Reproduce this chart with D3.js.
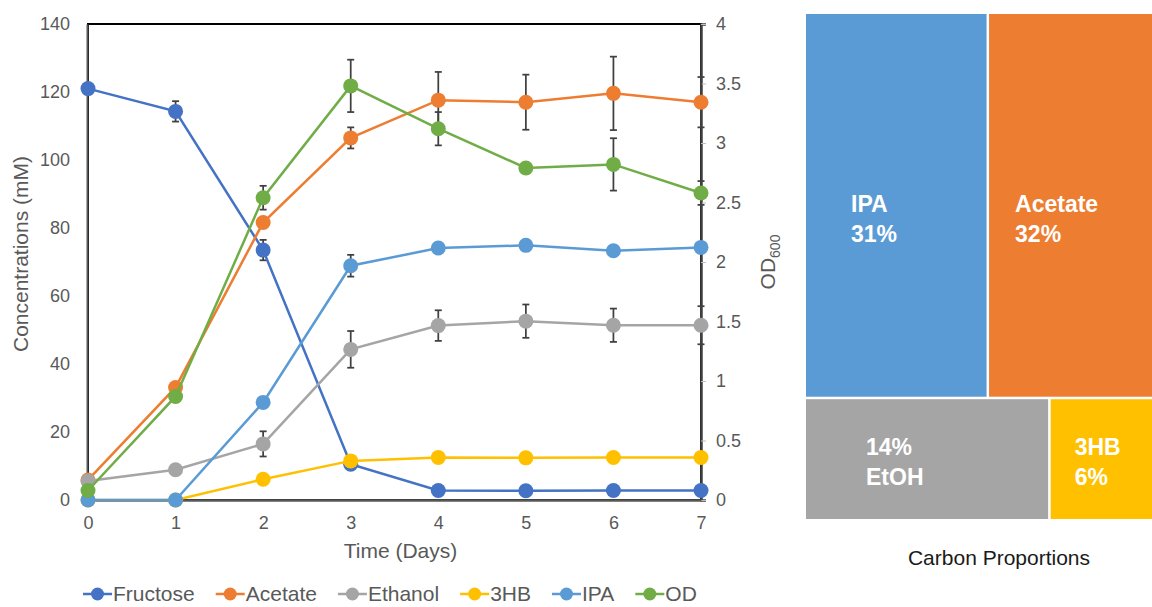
<!DOCTYPE html>
<html>
<head>
<meta charset="utf-8">
<script src="https://cdn.jsdelivr.net/npm/d3@7"></script>
<style>
  html, body { margin: 0; padding: 0; background: #fff; }
  svg { display: block; font-family: "Liberation Sans", Arial, sans-serif; }
</style>
</head>
<body>
<svg id="chart" width="1152" height="607"></svg>
<script>
// ---------- data ----------
const days = [0, 1, 2, 3, 4, 5, 6, 7];
const seriesNames = ["Fructose", "Acetate", "Ethanol", "3HB", "IPA", "OD"];
const seriesColors = ["#4472C4", "#ED7D31", "#A5A5A5", "#FFC000", "#5B9BD5", "#70AD47"];
const fructose    = [121.0, 114.3, 73.5, 10.5, 2.8, 2.7, 2.8, 2.8];
const fructoseErr = [0, 3.0, 3.0, 0, 0, 0, 0, 0];
const acetate     = [5.9, 33.1, 81.6, 106.5, 117.6, 117.0, 119.6, 117.0];
const acetateErr  = [0, 0, 0, 3.1, 8.3, 8.1, 10.8, 7.4];
const ethanol     = [5.6, 8.9, 16.5, 44.3, 51.3, 52.6, 51.4, 51.4];
const ethanolErr  = [0, 0, 3.7, 5.4, 4.5, 4.9, 4.9, 5.6];
const hb3         = [0, 0, 6.1, 11.5, 12.5, 12.4, 12.5, 12.5];
const hb3Err      = [0, 0, 0, 0, 0, 0, 0, 0];
const ipa         = [0, 0, 28.7, 68.9, 74.1, 74.9, 73.3, 74.3];
const ipaErr      = [0, 0, 0, 3.2, 0, 0, 0, 0];
const od          = [0.08, 0.87, 2.54, 3.48, 3.12, 2.79, 2.82, 2.58];
const odErr       = [0, 0, 0.1, 0.22, 0.14, 0, 0.22, 0.1];

const leftTicks  = [0, 20, 40, 60, 80, 100, 120, 140];
const rightTicks = [0, 0.5, 1, 1.5, 2, 2.5, 3, 3.5, 4];

// treemap (carbon proportions)
const cellNames  = ["IPA", "Acetate", "EtOH", "3HB"];
const cellPct    = ["31%", "32%", "14%", "6%"];
const cellArea   = [33, 30, 14, 6];          // relative areas as drawn
const cellRow    = [0, 0, 1, 1];
const cellColors = ["#5B9BD5", "#ED7D31", "#A5A5A5", "#FFC000"];

// ---------- setup ----------
const svg = d3.select("#chart");
const x  = d3.scaleLinear().domain([0, 7]).range([88, 701]);
const yL = d3.scaleLinear().domain([0, 140]).range([500, 24]);
const yR = d3.scaleLinear().domain([0, 4]).range([500, 24]);

const tickColor = "#595959";

// plot border
svg.append("rect")
  .attr("x", x(0)).attr("y", yL(140))
  .attr("width", x(7) - x(0)).attr("height", yL(0) - yL(140))
  .attr("fill", "none").attr("stroke", "#000").attr("stroke-width", 2);

// left axis
const gL = svg.append("g").attr("transform", `translate(${x(0) - 1},0)`)
  .call(d3.axisLeft(yL).tickValues(leftTicks).tickSize(0).tickPadding(17).tickFormat(d3.format("d")));
gL.select(".domain").attr("stroke", "#595959").attr("stroke-width", 2);
gL.selectAll("text").attr("fill", tickColor).style("font-size", "18px").style("font-family", "Liberation Sans, Arial, sans-serif");

// right axis
const gR = svg.append("g").attr("transform", `translate(${x(7)},0)`)
  .call(d3.axisRight(yR).tickValues(rightTicks).tickSize(5).tickPadding(10).tickFormat(d => d));
gR.select(".domain").attr("stroke", "#404040").attr("stroke-width", 2.5);
gR.selectAll(".tick line").attr("stroke", "#BFBFBF").attr("stroke-width", 1);
gR.selectAll("text").attr("fill", tickColor).style("font-size", "18px").style("font-family", "Liberation Sans, Arial, sans-serif");

// bottom axis
const gB = svg.append("g").attr("transform", `translate(0,${yL(0)})`)
  .call(d3.axisBottom(x).tickValues(days).tickSize(0).tickPadding(16).tickFormat(d3.format("d")));
gB.select(".domain").attr("stroke", "#595959").attr("stroke-width", 2.5);
gB.selectAll("text").attr("fill", tickColor).style("font-size", "18px").style("font-family", "Liberation Sans, Arial, sans-serif");

// axis titles
svg.append("text")
  .attr("transform", `translate(28,${(yL(0) + yL(140)) / 2 - 8}) rotate(-90)`)
  .attr("text-anchor", "middle")
  .attr("fill", tickColor).style("font-size", "21px")
  .text("Concentrations (mM)");

const odTitle = svg.append("text")
  .attr("transform", `translate(775,${(yR(0) + yR(4)) / 2}) rotate(-90)`)
  .attr("text-anchor", "middle")
  .attr("fill", tickColor).style("font-size", "21px");
odTitle.append("tspan").text("OD");
odTitle.append("tspan").attr("dy", 5).style("font-size", "14px").text("600");

svg.append("text")
  .attr("x", (x(0) + x(7)) / 2 + 6).attr("y", 558)
  .attr("text-anchor", "middle")
  .attr("fill", tickColor).style("font-size", "21px")
  .text("Time (Days)");

// ---------- series ----------
const seriesValues = [fructose, acetate, ethanol, hb3, ipa, od];
const seriesErrors = [fructoseErr, acetateErr, ethanolErr, hb3Err, ipaErr, odErr];
const seriesScale  = [yL, yL, yL, yL, yL, yR];

seriesNames.forEach((name, i) => {
  const vals = seriesValues[i], errs = seriesErrors[i], ys = seriesScale[i];
  const pts = days.map((d, k) => ({ d, v: vals[k], e: errs[k] }));
  const g = svg.append("g");

  // error bars
  const eb = g.selectAll(".err").data(pts.filter(p => p.e > 0)).join("g");
  eb.append("line")
    .attr("x1", p => x(p.d)).attr("x2", p => x(p.d))
    .attr("y1", p => ys(p.v - p.e)).attr("y2", p => ys(p.v + p.e))
    .attr("stroke", "#404040").attr("stroke-width", 1.75);
  [-1, 1].forEach(s => {
    eb.append("line")
      .attr("x1", p => x(p.d) - 3.5).attr("x2", p => x(p.d) + 3.5)
      .attr("y1", p => ys(p.v + s * p.e)).attr("y2", p => ys(p.v + s * p.e))
      .attr("stroke", "#404040").attr("stroke-width", 1.75);
  });

  g.append("path")
    .datum(pts)
    .attr("d", d3.line().x(p => x(p.d)).y(p => ys(p.v)))
    .attr("fill", "none").attr("stroke", seriesColors[i]).attr("stroke-width", 2.5);

  g.selectAll("circle").data(pts).join("circle")
    .attr("cx", p => x(p.d)).attr("cy", p => ys(p.v)).attr("r", 7.5)
    .attr("fill", seriesColors[i]);
});

// ---------- legend ----------
const legend = svg.append("g").attr("transform", "translate(83,601)");
let lx = 0;
seriesNames.forEach((name, i) => {
  const item = legend.append("g").attr("transform", `translate(${lx},0)`);
  item.append("line").attr("x1", 0).attr("x2", 29).attr("y1", -7).attr("y2", -7)
    .attr("stroke", seriesColors[i]).attr("stroke-width", 2.5);
  item.append("circle").attr("cx", 14.5).attr("cy", -7).attr("r", 6.5).attr("fill", seriesColors[i]);
  const t = item.append("text").attr("x", 30).attr("y", 0)
    .attr("fill", tickColor).style("font-size", "21px").text(name);
  lx += 30 + t.node().getComputedTextLength() + 21;
});

// ---------- treemap ----------
const rootData = {
  children: [0, 1].map(r => ({
    children: cellNames.map((n, k) => ({ k, name: n, value: cellArea[k] })).filter(c => cellRow[c.k] === r)
  }))
};
const root = d3.hierarchy(rootData).sum(d => d.value || 0);
d3.treemap()
  .tile((node, x0, y0, x1, y1) => node.depth === 0
    ? d3.treemapSlice(node, x0, y0, x1, y1)
    : d3.treemapDice(node, x0, y0, x1, y1))
  .size([1153 - 806, 519 - 14])
  .paddingInner(2.5)(root);

const tm = svg.append("g").attr("transform", "translate(806,14)");
const leaves = tm.selectAll("g").data(root.leaves()).join("g");
leaves.append("rect")
  .attr("x", d => d.x0).attr("y", d => d.y0)
  .attr("width", d => d.x1 - d.x0).attr("height", d => d.y1 - d.y0)
  .attr("fill", d => cellColors[d.data.k]);

const labelOffsets = [45, 26, 60, 24];
leaves.append("text")
  .attr("fill", "#fff").style("font-weight", "bold").style("font-size", "23px")
  .each(function (d) {
    const k = d.data.k;
    const t = d3.select(this);
    const lines = k === 2 ? [cellPct[k], cellNames[k]] : [cellNames[k], cellPct[k]];
    const yBase = cellRow[k] === 0 ? 198 : (455 - 14);
    lines.forEach((s, j) => {
      t.append("tspan").attr("x", d.x0 + labelOffsets[k]).attr("y", yBase + j * 30).text(s);
    });
  });

svg.append("text")
  .attr("x", 999).attr("y", 565)
  .attr("text-anchor", "middle")
  .attr("fill", "#1a1a1a").style("font-size", "21px")
  .text("Carbon Proportions");
</script>
</body>
</html>
